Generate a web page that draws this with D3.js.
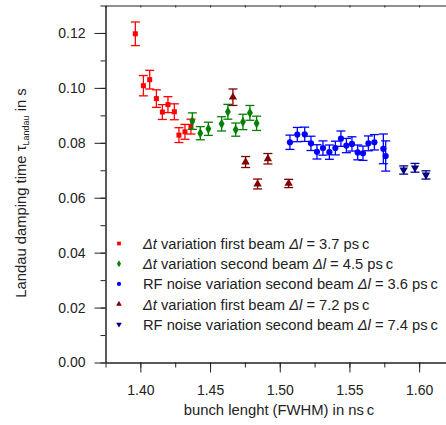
<!DOCTYPE html>
<html>
<head>
<meta charset="UTF-8">
<script src="https://cdnjs.cloudflare.com/ajax/libs/d3/7.8.5/d3.min.js"></script>
<style>
  body { margin: 0; background: #fff; overflow: hidden; }
  svg { font-family: "Liberation Sans", Arial, sans-serif; }
</style>
</head>
<body>
<script>
// bunch length (ns c), damping time (s), error (s)
const redX = [1.3964, 1.4022, 1.4067, 1.4115, 1.4158, 1.4198, 1.4244, 1.4277, 1.4320, 1.4363];
const redY = [0.1197, 0.1008, 0.1030, 0.0961, 0.0912, 0.0939, 0.0913, 0.0828, 0.0840, 0.0859];
const redE = [0.0043, 0.0037, 0.0034, 0.0032, 0.0027, 0.0029, 0.0029, 0.0027, 0.0027, 0.0027];

const greenX = [1.4373, 1.4430, 1.4488, 1.4583, 1.4628, 1.4684, 1.4736, 1.4786, 1.4834];
const greenY = [0.0879, 0.0835, 0.0851, 0.0869, 0.0913, 0.0848, 0.0876, 0.0909, 0.0871];
const greenE = [0.0030, 0.0024, 0.0024, 0.0026, 0.0027, 0.0024, 0.0028, 0.0027, 0.0026];

const blueX = [1.5073, 1.5126, 1.5179, 1.5224, 1.5267, 1.5310, 1.5356, 1.5399, 1.5439, 1.5478, 1.5518, 1.5559, 1.5597, 1.5636, 1.5679, 1.5743, 1.5760];
const blueY = [0.0802, 0.0830, 0.0831, 0.0798, 0.0767, 0.0781, 0.0766, 0.0781, 0.0815, 0.0790, 0.0796, 0.0765, 0.0762, 0.0798, 0.0802, 0.0778, 0.0752];
const blueE = [0.0026, 0.0026, 0.0026, 0.0026, 0.0026, 0.0026, 0.0026, 0.0025, 0.0028, 0.0026, 0.0026, 0.0027, 0.0026, 0.0027, 0.0028, 0.0054, 0.0055];

const darkRedX = [1.4664, 1.4755, 1.4841, 1.4915, 1.5064];
const darkRedY = [0.0966, 0.0730, 0.0650, 0.0742, 0.0652];
const darkRedE = [0.0030, 0.0020, 0.0018, 0.0019, 0.0015];

const navyX = [1.5889, 1.5970, 1.6049];
const navyY = [0.0701, 0.0709, 0.0683];
const navyE = [0.0015, 0.0016, 0.0015];

const xTicks = [1.40, 1.45, 1.50, 1.55, 1.60];
const yTicks = [0.00, 0.02, 0.04, 0.06, 0.08, 0.10, 0.12];

const series = [
  { xs: redX, ys: redY, es: redE, color: "#ff0000", shape: "square", label: ["Δt", " variation first beam ", "Δl", " = 3.7 ps\u2009c"] },
  { xs: greenX, ys: greenY, es: greenE, color: "#008000", shape: "diamond", label: ["Δt", " variation second beam ", "Δl", " = 4.5 ps\u2009c"] },
  { xs: blueX, ys: blueY, es: blueE, color: "#0000ff", shape: "circle", label: ["", "RF noise variation second beam ", "Δl", " = 3.6 ps\u2009c"] },
  { xs: darkRedX, ys: darkRedY, es: darkRedE, color: "#800000", shape: "up", label: ["Δt", " variation first beam ", "Δl", " = 7.2 ps\u2009c"] },
  { xs: navyX, ys: navyY, es: navyE, color: "#000080", shape: "down", label: ["", "RF noise variation second beam ", "Δl", " = 7.4 ps\u2009c"] }
];

const W = 446, H = 425;
const mLeft = 105.5, mTop = 5.5, mBottom = 362.5, mRight = 454;

const svg = d3.select("body").append("svg").attr("width", W).attr("height", H);

const x = d3.scaleLinear().domain([1.375, 1.625]).range([mLeft, mRight]);
const y = d3.scaleLinear().domain([0, 0.13]).range([mBottom, mTop]);

const ink = "#222";

function symbolFor(shape, size) {
  const types = { square: d3.symbolSquare, diamond: d3.symbolDiamond, circle: d3.symbolCircle, up: d3.symbolTriangle, down: d3.symbolTriangle };
  return d3.symbol().type(types[shape]).size(size)();
}

// axes
const xMinor = d3.range(1.375, 1.626, 0.025);
const yMinor = d3.range(0, 0.131, 0.01);

const xAxis = svg.append("g").attr("transform", `translate(0,${mBottom})`)
  .call(d3.axisBottom(x).tickValues(xTicks).tickFormat(d3.format(".2f")).tickSize(10).tickSizeOuter(0));
svg.append("g").attr("transform", `translate(0,${mBottom})`)
  .call(d3.axisBottom(x).tickValues(xMinor).tickFormat("").tickSize(5).tickSizeOuter(0));

const yAxis = svg.append("g").attr("transform", `translate(${mLeft},0)`)
  .call(d3.axisLeft(y).tickValues(yTicks).tickFormat(d3.format(".2f")).tickSize(11).tickSizeOuter(0));
svg.append("g").attr("transform", `translate(${mLeft},0)`)
  .call(d3.axisLeft(y).tickValues(yMinor).tickFormat("").tickSize(5).tickSizeOuter(0));

svg.append("g").attr("transform", `translate(0,${mTop})`)
  .call(d3.axisTop(x).tickValues(xMinor).tickFormat("").tickSize(-2).tickSizeOuter(0));

svg.selectAll(".domain, .tick line").attr("stroke", ink).attr("stroke-width", 1);
svg.selectAll(".tick text").attr("fill", ink).style("font-size", "14px")
  .style("font-family", "'Liberation Sans', Arial, sans-serif");
xAxis.selectAll(".tick text").attr("y", 32).attr("dy", 0);
yAxis.selectAll(".tick text").attr("x", -20);

// axis titles
svg.append("text").attr("x", 279).attr("y", 415).attr("text-anchor", "middle")
  .attr("fill", ink).style("font-size", "14.8px").text("bunch lenght (FWHM) in ns\u2009c");

const yl = svg.append("text").attr("transform", "translate(26,193) rotate(-90)")
  .attr("text-anchor", "middle").attr("fill", ink).style("font-size", "14.8px");
yl.append("tspan").text("Landau damping time τ");
yl.append("tspan").attr("dy", 3).style("font-size", "9px").text("Landau");
yl.append("tspan").attr("dy", -3).text(" in s");

// data
const plot = svg.append("g");
series.forEach(s => {
  const pts = s.xs.map((v, i) => ({ x: v, y: s.ys[i], e: s.es[i] }));
  const g = plot.append("g").attr("stroke", s.color).attr("fill", s.color);
  const bars = g.selectAll("g.eb").data(pts).join("g").attr("class", "eb");
  bars.append("line").attr("x1", d => x(d.x)).attr("x2", d => x(d.x))
    .attr("y1", d => y(d.y - d.e)).attr("y2", d => y(d.y + d.e)).attr("stroke-width", 1.3);
  bars.append("line").attr("x1", d => x(d.x) - 4.5).attr("x2", d => x(d.x) + 4.5)
    .attr("y1", d => y(d.y + d.e)).attr("y2", d => y(d.y + d.e)).attr("stroke-width", 1.3);
  bars.append("line").attr("x1", d => x(d.x) - 4.5).attr("x2", d => x(d.x) + 4.5)
    .attr("y1", d => y(d.y - d.e)).attr("y2", d => y(d.y - d.e)).attr("stroke-width", 1.3);
  const size = { square: 25, diamond: 30, circle: 30, up: 30, down: 30 }[s.shape];
  g.selectAll("path.m").data(pts).join("path").attr("class", "m")
    .attr("d", symbolFor(s.shape, size)).attr("stroke", "none")
    .attr("transform", d => `translate(${x(d.x)},${y(d.y)})` + (s.shape === "down" ? " rotate(180)" : ""));
});

// legend
const legend = svg.append("g");
series.forEach((s, i) => {
  const ly = 243.5 + i * 20.2;
  legend.append("path").attr("d", symbolFor(s.shape, 14)).attr("fill", s.color)
    .attr("transform", `translate(119,${ly})` + (s.shape === "down" ? " rotate(180)" : ""));
  const t = legend.append("text").attr("x", 143).attr("y", ly + 5.5).attr("fill", ink).style("font-size", "14.7px");
  if (s.label[0]) t.append("tspan").style("font-style", "italic").text(s.label[0]);
  t.append("tspan").text(s.label[1]);
  t.append("tspan").style("font-style", "italic").text(s.label[2]);
  t.append("tspan").text(s.label[3]);
});
</script>
</body>
</html>
